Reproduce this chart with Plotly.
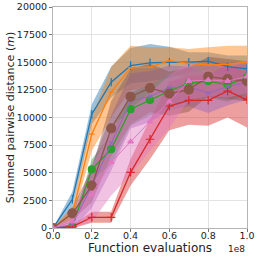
import plotly.graph_objects as go

evals = [0, 1e7, 2e7, 3e7, 4e7, 5e7, 6e7, 7e7, 8e7, 9e7, 1e8]
x_tick_vals = [0, 2e7, 4e7, 6e7, 8e7, 1e8]
x_tick_text = ["0.0", "0.2", "0.4", "0.6", "0.8", "1.0"]
y_tick_vals = [0, 2500, 5000, 7500, 10000, 12500, 15000, 17500, 20000]
y_tick_text = ["0", "2500", "5000", "7500", "10000", "12500", "15000", "17500", "20000"]

blue_mean = [0, 2600, 10300, 13200, 14700, 14950, 15000, 15000, 15100, 14600, 14400]
blue_std = [0, 700, 900, 1400, 1600, 1700, 1400, 900, 800, 1000, 1200]
orange_mean = [0, 1300, 8500, 12300, 14500, 14550, 15150, 14900, 14750, 14800, 15000]
orange_std = [0, 600, 1500, 2300, 2000, 1800, 1200, 1300, 1600, 1700, 1500]
green_mean = [0, 150, 5300, 7130, 10750, 11580, 12400, 13100, 13300, 12950, 13600]
green_std = [0, 150, 900, 1400, 1500, 1400, 1400, 1500, 1500, 1500, 1500]
red_mean = [0, 120, 970, 970, 5040, 8030, 11040, 11550, 11550, 12400, 11600]
red_std = [0, 150, 500, 500, 1200, 1800, 2200, 2200, 2300, 2400, 2500]
purple_mean = [0, 300, 3800, 7700, 11500, 11900, 12700, 12800, 12200, 12800, 13200]
purple_std = [0, 400, 2000, 2500, 2500, 2300, 2000, 1800, 1800, 1700, 1600]
brown_mean = [0, 1330, 3830, 9020, 11880, 12670, 12150, 12520, 13700, 13470, 13280]
brown_std = [0, 600, 1500, 2500, 2500, 2200, 2000, 2000, 1800, 1800, 1800]
pink_mean = [0, 570, 3050, 5950, 7810, 9620, 11430, 13300, 13390, 13300, 13700]
pink_std = [0, 500, 2500, 3000, 3000, 2600, 2400, 1700, 1500, 1500, 1500]

series = [
    ("blue", blue_mean, blue_std, "#1f77b4", "line-ns-open", 6, 1.3),
    ("orange", orange_mean, orange_std, "#ff7f0e", "line-ew-open", 4, 1.3),
    ("green", green_mean, green_std, "#2ca02c", "circle", 7, 1.3),
    ("red", red_mean, red_std, "#d62728", "cross-thin-open", 6, 1.3),
    ("purple", purple_mean, purple_std, "#9467bd", "x-thin-open", 4, 1.0),
    ("brown", brown_mean, brown_std, "#8c564b", "circle", 9, 1.3),
    ("pink", pink_mean, pink_std, "#e377c2", "triangle-up", 5, 1.0),
]


def rgba(h, a):
    h = h.lstrip("#")
    return "rgba(%d,%d,%d,%.2f)" % (int(h[0:2], 16), int(h[2:4], 16), int(h[4:6], 16), a)


fig = go.Figure()
for name, m, s, c, sym, sz, lw in series:
    up = [a + b for a, b in zip(m, s)]
    lo = [a - b for a, b in zip(m, s)]
    fig.add_trace(go.Scatter(x=evals + evals[::-1], y=up + lo[::-1], fill="toself",
                             fillcolor=rgba(c, 0.45), line=dict(width=0), mode="lines",
                             hoverinfo="skip", showlegend=False))
for name, m, s, c, sym, sz, lw in series:
    fig.add_trace(go.Scatter(x=evals, y=m, mode="lines+markers", name=name,
                             line=dict(color=c, width=lw),
                             marker=dict(symbol=sym, size=sz, color=c, line=dict(color=c, width=1.2)),
                             showlegend=False))

axis_common = dict(showgrid=True, gridcolor="#e3e3e3", gridwidth=1, showline=True,
                   linecolor="#b5b5b5", linewidth=1, mirror=True, ticks="outside",
                   ticklen=3, tickcolor="#777777", zeroline=False, automargin=False,
                   tickfont=dict(family="DejaVu Sans", size=9.5, color="#222222"))
fig.update_xaxes(range=[0, 1e8], tickvals=x_tick_vals, ticktext=x_tick_text,
                 ticklabelstandoff=-4,
                 title=dict(text="Function evaluations", standoff=0,
                            font=dict(family="DejaVu Sans", size=12, color="#222222")),
                 **axis_common)
fig.update_yaxes(range=[0, 20000], tickvals=y_tick_vals, ticktext=y_tick_text,
                 title=dict(text="Summed pairwise distance (<i>m</i>)", standoff=0,
                            font=dict(family="DejaVu Sans", size=11, color="#222222")),
                 **axis_common)
fig.add_annotation(text="1e8", xref="paper", yref="paper", x=1.0, y=-0.065,
                   xanchor="right", yanchor="top", showarrow=False,
                   font=dict(family="DejaVu Sans", size=9, color="#222222"))
fig.update_layout(width=258, height=258, margin=dict(l=53, r=11, t=7, b=30),
                  plot_bgcolor="white", paper_bgcolor="white")
fig.write_html("out.html", config={"displayModeBar": False},
               post_script="document.body.style.margin='0';document.body.style.overflow='hidden';")
